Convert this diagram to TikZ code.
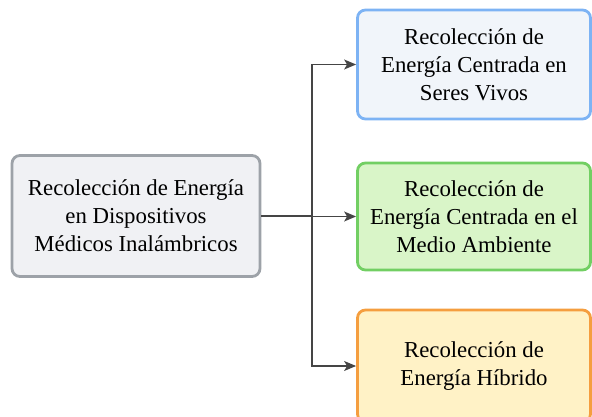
\documentclass[tikz,border=0pt]{standalone}
\usepackage{fontspec}
\setmainfont{Liberation Serif}[Ligatures=TeX]
\usetikzlibrary{arrows.meta}

\definecolor{grisborde}{HTML}{9DA2A8}
\definecolor{grisfondo}{HTML}{F0F1F4}
\definecolor{azulborde}{HTML}{7DB3F4}
\definecolor{azulfondo}{HTML}{F1F5FA}
\definecolor{verdeborde}{HTML}{72CF63}
\definecolor{verdefondo}{HTML}{D9F5C8}
\definecolor{naranjaborde}{HTML}{F59E3F}
\definecolor{naranjafondo}{HTML}{FFF2C6}
\definecolor{flechagris}{HTML}{454545}

\begin{document}
\begin{tikzpicture}[x=1pt,y=1pt,
  caja/.style={draw, line width=2.8pt, rounded corners=8pt, align=center,
    inner sep=0pt, font=\fontsize{22.8}{28}\selectfont\rmfamily},
  flecha/.style={draw=flechagris, line width=1.2pt,
    -{Stealth[length=12pt,width=10pt,inset=3pt]}}]
\useasboundingbox (0,0) rectangle (592,-417);

\node[caja, draw=grisborde, fill=grisfondo, minimum width=248pt, minimum height=121pt]
  (origen) at (136,-216) {Recolección de Energía\\en Dispositivos\\Médicos Inalámbricos};

\node[caja, draw=azulborde, fill=azulfondo, minimum width=233pt, minimum height=109pt]
  (seres) at (474,-64.5) {Recolección de\\Energía Centrada en\\Seres Vivos};
\node[caja, draw=verdeborde, fill=verdefondo, minimum width=233pt, minimum height=107pt]
  (ambiente) at (474,-216.5) {Recolección de\\Energía Centrada en el\\Medio Ambiente};
\node[caja, draw=naranjaborde, fill=naranjafondo, minimum width=233pt, minimum height=112pt]
  (hibrido) at (474,-366) {Recolección de\\Energía Híbrido};

\coordinate (tronco) at (312,-216);

\foreach \n in {seres,ambiente,hibrido}
\draw[flecha] (origen.east) -- (tronco) |- (\n.west);
\end{tikzpicture}
\end{document}
